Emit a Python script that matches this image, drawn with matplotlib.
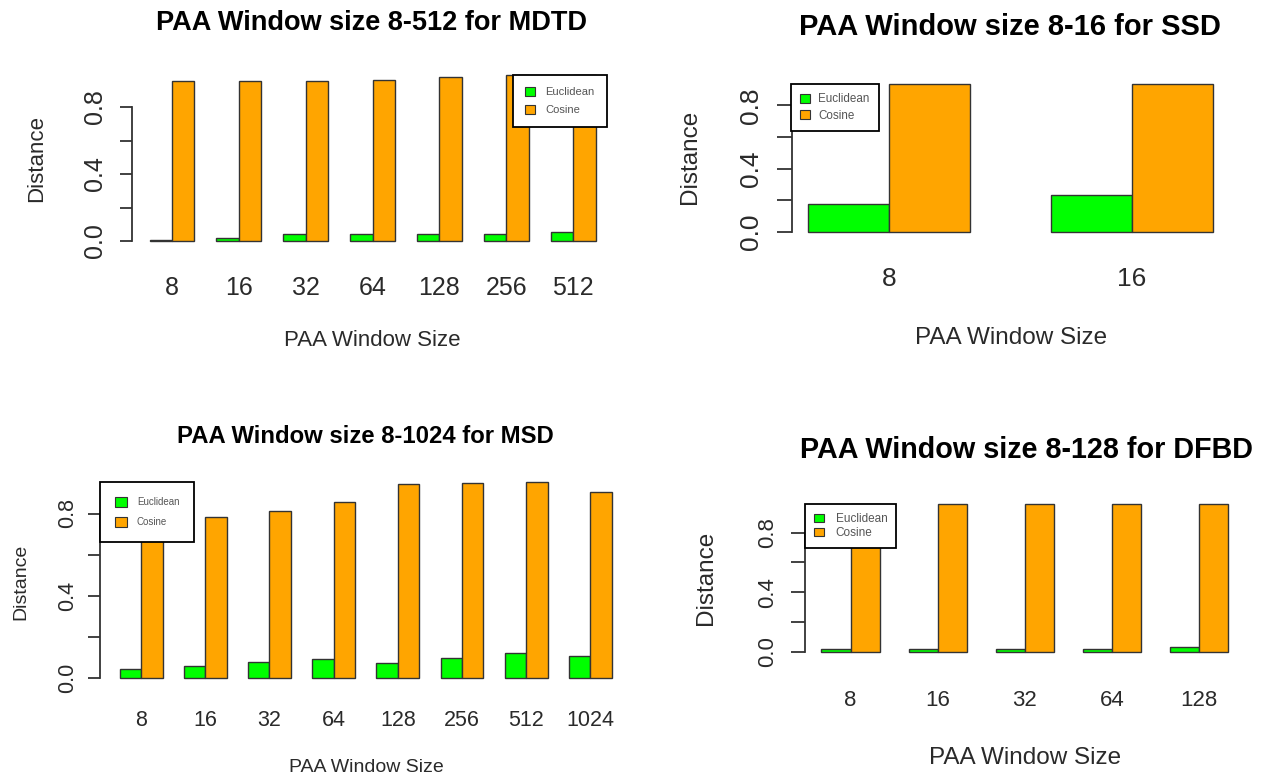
import numpy as np
import matplotlib.pyplot as plt
from matplotlib.patches import Patch

plt.rcParams['font.family'] = ['Liberation Sans', 'DejaVu Sans']
NARROW = ['Liberation Sans Narrow', 'Liberation Sans', 'DejaVu Sans']

W, H = 1267, 776
GREEN = '#00FF00'
ORANGE = '#FFA500'
EDGE = '#333333'
TXT = '#2a2a2a'

# distances for each PAA window size, Euclidean vs Cosine
mdtd_sizes = ['8', '16', '32', '64', '128', '256', '512']
mdtd_euclid = [0.005, 0.015, 0.04, 0.04, 0.04, 0.04, 0.055]
mdtd_cosine = [0.955, 0.955, 0.955, 0.964, 0.98, 0.99, 0.99]

ssd_sizes = ['8', '16']
ssd_euclid = [0.175, 0.236]
ssd_cosine = [0.935, 0.935]

msd_sizes = ['8', '16', '32', '64', '128', '256', '512', '1024']
msd_euclid = [0.044, 0.061, 0.081, 0.092, 0.074, 0.099, 0.124, 0.11]
msd_cosine = [0.75, 0.784, 0.813, 0.857, 0.942, 0.949, 0.954, 0.905]

dfbd_sizes = ['8', '16', '32', '64', '128']
dfbd_euclid = [0.015, 0.015, 0.015, 0.015, 0.03]
dfbd_cosine = [0.995, 0.995, 0.995, 0.995, 0.995]

# layout of each panel in pixels (x1 = left edge of first bar, xu/yu = px per unit)
panels = [
    dict(title='PAA Window size 8-512 for MDTD', sizes=mdtd_sizes, euc=mdtd_euclid, cos=mdtd_cosine,
         x1=149.5, xu=22.3, y0=241, yu=167.5, title_xy=(372, 30), title_fs=19.5,
         tick_fs=18, lab_fs=16, xtick_y=285, ytick_x=93, tick_len=12,
         xlab=(372, 341), ylab=(37, 158),
         leg=dict(xy=(513, 75), fs=8, ls=0.7, bp=1.1, hl=0.9, hh=0.8, tp=0.9)),
    dict(title='PAA Window size 8-16 for SSD', sizes=ssd_sizes, euc=ssd_euclid, cos=ssd_cosine,
         x1=808, xu=81, y0=232, yu=158.3, title_xy=(1010, 35), title_fs=21,
         tick_fs=19, lab_fs=17.5, xtick_y=277, ytick_x=748, tick_len=15,
         xlab=(1011, 338), ylab=(690, 157),
         leg=dict(xy=(791, 84), fs=8.4, ls=0.37, bp=0.8, hl=0.85, hh=0.75, tp=0.7)),
    dict(title='PAA Window size 8-1024 for MSD', sizes=msd_sizes, euc=msd_euclid, cos=msd_cosine,
         x1=119.7, xu=21.4, y0=678.3, yu=206, title_xy=(365, 443), title_fs=17.2,
         tick_fs=15.5, lab_fs=14, xtick_y=718, ytick_x=66, tick_len=12,
         xlab=(366, 768), ylab=(21, 582),
         leg=dict(xy=(100, 482), fs=7, ls=1.06, bp=1.5, hl=1.3, hh=1.2, tp=1.0)),
    dict(title='PAA Window size 8-128 for DFBD', sizes=dfbd_sizes, euc=dfbd_euclid, cos=dfbd_cosine,
         x1=821.5, xu=29.05, y0=651.7, yu=148.75, title_xy=(1026, 458), title_fs=20.7,
         tick_fs=16, lab_fs=17.5, xtick_y=697.5, ytick_x=765, tick_len=14,
         xlab=(1025, 758), ylab=(706, 578),
         leg=dict(xy=(805, 504), fs=8.5, ls=0.2, bp=0.75, hl=0.85, hh=0.7, tp=1.0)),
]

fig = plt.figure(figsize=(W / 100, H / 100), dpi=100)
fig.patch.set_facecolor('white')

for p in panels:
    n = len(p['sizes'])
    span = 3 * n - 1
    xmin, xmax = 1 - 0.04 * span, 3 * n + 0.04 * span
    ymin, ymax = -0.02, 1.02

    left = p['x1'] - (1 - xmin) * p['xu']
    width = (xmax - xmin) * p['xu']
    bottom = p['y0'] - ymin * p['yu']
    height = (ymax - ymin) * p['yu']
    ax = fig.add_axes([left / W, 1 - bottom / H, width / W, height / H])
    ax.patch.set_alpha(0)

    centers = np.arange(n) * 3 + 2
    ax.bar(centers - 0.5, p['euc'], width=1, color=GREEN, edgecolor=EDGE, linewidth=1.0)
    ax.bar(centers + 0.5, p['cos'], width=1, color=ORANGE, edgecolor=EDGE, linewidth=1.0)
    ax.set_xlim(xmin, xmax)
    ax.set_ylim(ymin, ymax)

    for side in ['top', 'right', 'bottom']:
        ax.spines[side].set_visible(False)
    ax.spines['left'].set_bounds(0, 0.8)
    ax.spines['left'].set_linewidth(1.3)
    ax.spines['left'].set_color(EDGE)

    # y axis: ticks every 0.2, labels on every other one, rotated like R
    E = p['tick_fs'] / 0.72
    ax.set_yticks([0, 0.2, 0.4, 0.6, 0.8], ['0.0', '', '0.4', '', '0.8'])
    ypad = (left - p['tick_len'] - p['ytick_x'] - 0.57 * E) * 0.72
    ax.tick_params(axis='y', length=p['tick_len'] * 0.72, width=1.3, color=EDGE,
                   labelsize=p['tick_fs'], labelcolor=TXT, labelrotation=90, pad=ypad)
    for t in ax.get_yticklabels():
        t.set_va('center')
        t.set_family(NARROW)

    # x axis: group names only, no axis line
    ax.set_xticks(centers, p['sizes'])
    xpad = (p['xtick_y'] - 0.36 * E - bottom) * 0.72
    ax.tick_params(axis='x', length=0, labelsize=p['tick_fs'], labelcolor=TXT, pad=xpad)
    for t in ax.get_xticklabels():
        t.set_family(NARROW)

    ax.set_xlabel('PAA Window Size', fontsize=p['lab_fs'], color=TXT, va='center')
    ax.xaxis.set_label_coords(p['xlab'][0] / W, 1 - p['xlab'][1] / H, transform=fig.transFigure)
    ax.set_ylabel('Distance', fontsize=p['lab_fs'], color=TXT, va='center')
    ax.yaxis.set_label_coords(p['ylab'][0] / W, 1 - p['ylab'][1] / H, transform=fig.transFigure)

    fig.text(p['title_xy'][0] / W, 1 - p['title_xy'][1] / H, p['title'], ha='center',
             va='baseline', fontsize=p['title_fs'], fontweight='bold', color='black')

    lg = p['leg']
    handles = [Patch(facecolor=GREEN, edgecolor=EDGE, linewidth=0.8, label='Euclidean'),
               Patch(facecolor=ORANGE, edgecolor=EDGE, linewidth=0.8, label='Cosine')]
    leg = ax.legend(handles=handles, loc='upper left',
                    bbox_to_anchor=(lg['xy'][0] / W, 1 - lg['xy'][1] / H),
                    bbox_transform=fig.transFigure, borderaxespad=0,
                    fontsize=lg['fs'], labelspacing=lg['ls'], borderpad=lg['bp'],
                    handlelength=lg['hl'], handleheight=lg['hh'], handletextpad=lg['tp'],
                    fancybox=False, framealpha=1, edgecolor='black', labelcolor='#555555')
    leg.get_frame().set_linewidth(1.3)

fig.savefig('out.png', dpi=100, facecolor='white')
